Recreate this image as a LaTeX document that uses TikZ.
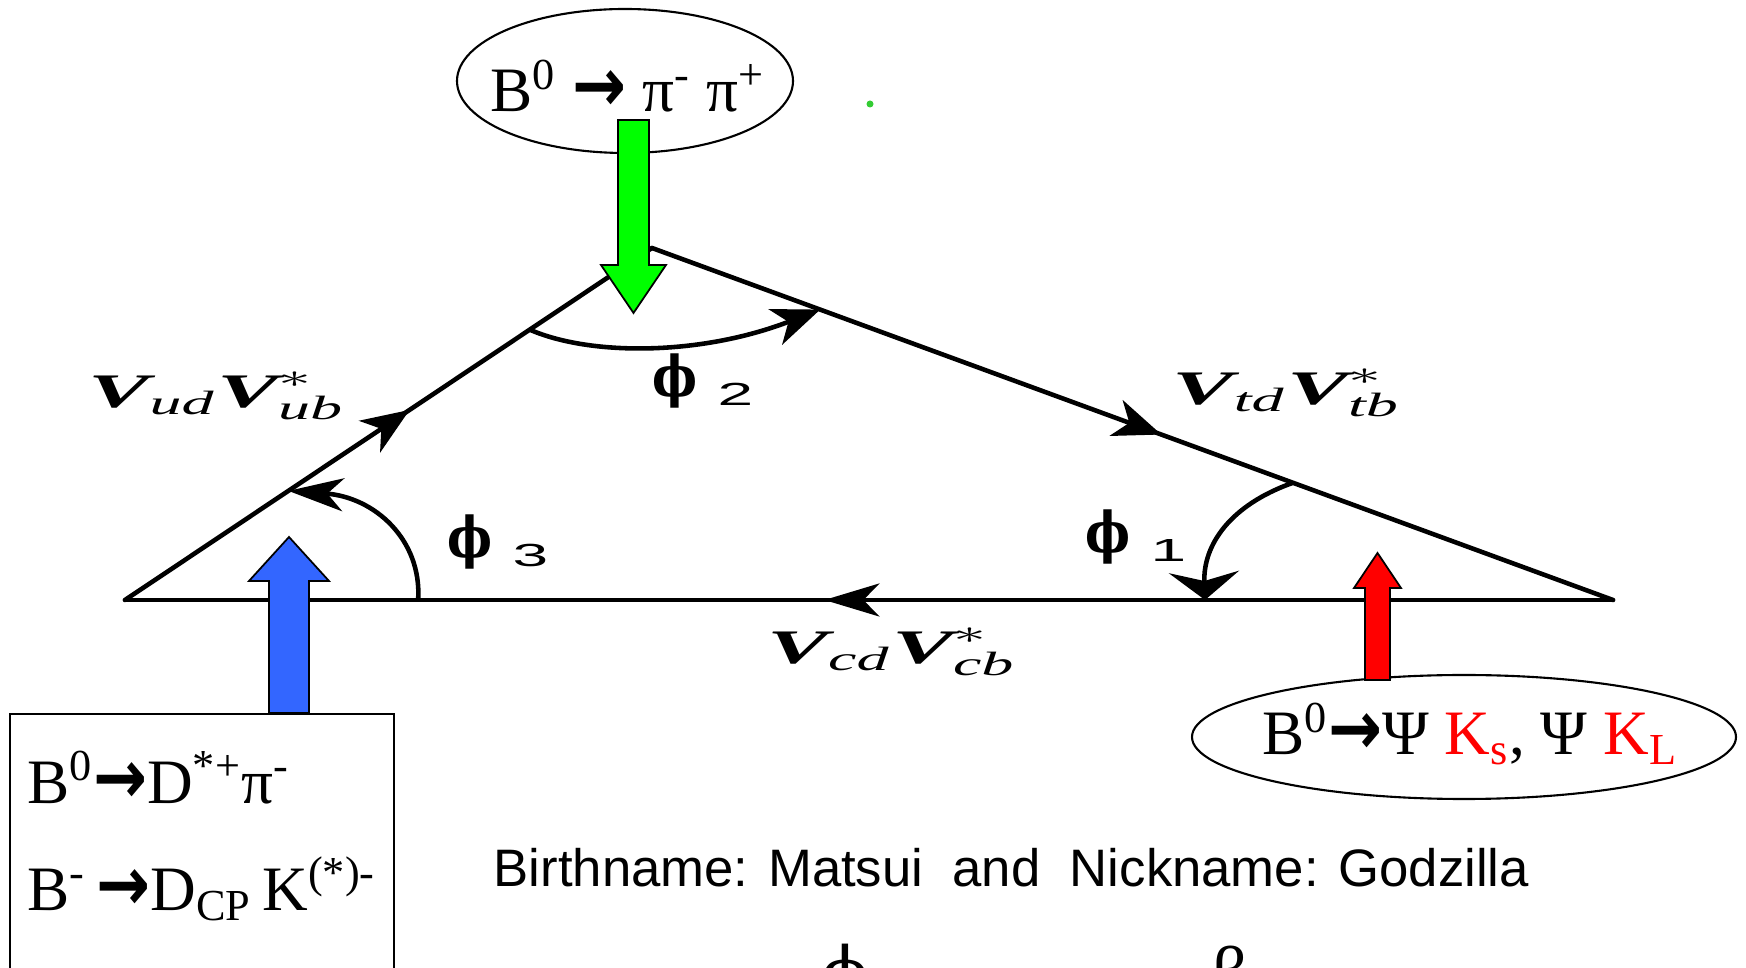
\RequirePackage{fix-cm}
\documentclass[tikz,border=0pt]{standalone}
\usepackage{amsmath,amssymb}
\usepackage{graphicx}
\usepackage{fontspec}
\setmainfont{Liberation Serif}
\setsansfont{Liberation Sans}
\newfontfamily\arrfont{DejaVu Sans}
\newfontfamily\phifont{DejaVu Serif}
\usepackage{xcolor}
\usepackage{tikz}
\usetikzlibrary{arrows.meta,positioning,calc,shapes.geometric,decorations.markings}

\definecolor{arrgreen}{RGB}{0,255,0}
\definecolor{arrblue}{RGB}{51,102,255}
\definecolor{arrred}{RGB}{255,0,0}
\definecolor{dotgreen}{RGB}{51,204,51}

\newcommand{\decarrow}{\scalebox{1.02}[1.2]{\arrfont\bfseries →}}
\newcommand{\ckm}[2]{\scalebox{1.9}[1]{\fontsize{13.7}{16}\selectfont
  $\text{\bfseries\itshape V}_{\text{\itshape #1}}\text{\bfseries\itshape V}^{*}_{\text{\itshape #2}}$}}
\newcommand{\phil}[1]{\scalebox{0.85}[1]{\phifont\bfseries\fontsize{16}{18}\selectfont ϕ}\hspace{0.2cm}%
  \raisebox{-0.09cm}{\scalebox{2}[1]{\sffamily\fontsize{9.1}{10}\selectfont #1}}}

\tikzset{
  tipD/.tip={Stealth[length=4.8mm,width=3.8mm,inset=1.4mm]},
  tipH/.tip={Stealth[length=5.5mm,width=3.3mm,inset=1.6mm]},
  tipV/.tip={Stealth[length=2.8mm,width=7mm,inset=0.9mm]},
}

\begin{document}
\begin{tikzpicture}[
  tri/.style={line width=1.3pt, line cap=round},
  midtip/.style n args={2}{postaction={decorate,
      decoration={markings, mark=at position #1 with {\arrow{#2}}}}},
  arcline/.style={line width=1.3pt},
  blockarr/.style={draw=black, line width=0.5pt, line join=miter},
  outline/.style={draw=black, line width=0.6pt},
  decay/.style={font=\fontsize{18}{20}\selectfont, anchor=base},
  every node/.style={inner sep=0pt}]
  \useasboundingbox (0,0) rectangle (17.46,-9.68);
  \clip (0,0) rectangle (17.46,-9.68);

  % unitarity triangle
  \coordinate (A) at (1.25,-6.00);
  \coordinate (B) at (6.52,-2.48);
  \coordinate (C) at (16.13,-6.00);
  \draw[tri, midtip={0.54}{tipD}] (A) -- (B);
  \draw[tri, midtip={0.53}{tipD}] (B) -- (C);
  \draw[tri, midtip={0.53}{tipH}] (C) -- (A);

  % angles
  \draw[arcline, -{tipH}] ($(A)!0.197!(C)$) .. controls (4.22,-5.40) and (3.75,-4.97) .. ($(A)!0.31!(B)$);
  \draw[arcline, -{tipD}] ($(A)!0.768!(B)$) .. controls (5.90,-3.56) and (7.00,-3.56) .. ($(B)!0.175!(C)$);
  \draw[arcline, -{tipV}] ($(B)!0.667!(C)$) .. controls (12.30,-5.05) and (12.03,-5.45) .. (12.05,-6.00);

  \node[anchor=base west] (phi2) at (6.52,-3.97) {\phil{2}};
  \node[anchor=base west] (phi3) at (4.47,-5.58) {\phil{3}};
  \node[anchor=base west] (phi1) at (10.85,-5.53) {\phil{1}};

  % sides
  \node (vub) at (2.17,-3.96) {\ckm{ud}{ub}};
  \node (vtb) at (12.87,-3.93) {\ckm{td}{tb}};
  \node (vcb) at (8.92,-6.52) {\ckm{cd}{cb}};

  % decay modes
  \node[decay] (pipi) at (6.28,-1.12)
    {B\textsuperscript{0} \decarrow\ π\textsuperscript{-} π\textsuperscript{+}};
  \draw[outline] (6.25,-0.81) ellipse (1.68 and 0.72);
  \node[decay] (psik) at (14.70,-7.55)
    {B\textsuperscript{0}\decarrow Ψ \textcolor{arrred}{K\textsubscript{s}}, Ψ \textcolor{arrred}{K\textsubscript{L}}};
  \draw[outline] (14.64,-7.37) ellipse (2.72 and 0.62);
  \node[outline, anchor=north west, align=left, text width=3.5cm,
        inner xsep=0.17cm, inner ysep=0.37cm,
        font=\fontsize{18}{30.5}\selectfont] (dstar) at (0.09,-7.13)
    {B\textsuperscript{0}\decarrow D\textsuperscript{*+}π\textsuperscript{-}\\
     \mbox{B\textsuperscript{-}\,\decarrow D\textsubscript{CP}\,K\textsuperscript{(*)-}}\\
     \mbox{}};

  \fill[dotgreen] (8.70,-1.04) circle (0.035);

  % block arrows
  \draw[blockarr, fill=arrgreen] (6.18,-1.20) -- (6.49,-1.20) -- (6.49,-2.65) -- (6.66,-2.65)
    -- (6.335,-3.13) -- (6.01,-2.65) -- (6.18,-2.65) -- cycle;
  \draw[blockarr, fill=arrblue] (2.69,-7.13) -- (2.69,-5.81) -- (2.49,-5.81) -- (2.89,-5.37)
    -- (3.29,-5.81) -- (3.09,-5.81) -- (3.09,-7.13) -- cycle;
  \draw[blockarr, fill=arrred] (13.65,-6.80) -- (13.65,-5.88) -- (13.54,-5.88) -- (13.775,-5.53)
    -- (14.01,-5.88) -- (13.90,-5.88) -- (13.90,-6.80) -- cycle;

  % names
  \node[anchor=base west, font=\sffamily\fontsize{15}{18}\selectfont] (nick) at (4.93,-8.87)
    {Birthname: Matsui\ \ and\ \ Nickname: Godzilla};
  \node[anchor=base, font=\phifont\fontsize{20}{22}\selectfont] (phib) at (8.45,-9.97) {ϕ};
  \node[anchor=base, font=\fontsize{20}{22}\selectfont] (beta) at (12.30,-9.96) {β};
\end{tikzpicture}
\end{document}
